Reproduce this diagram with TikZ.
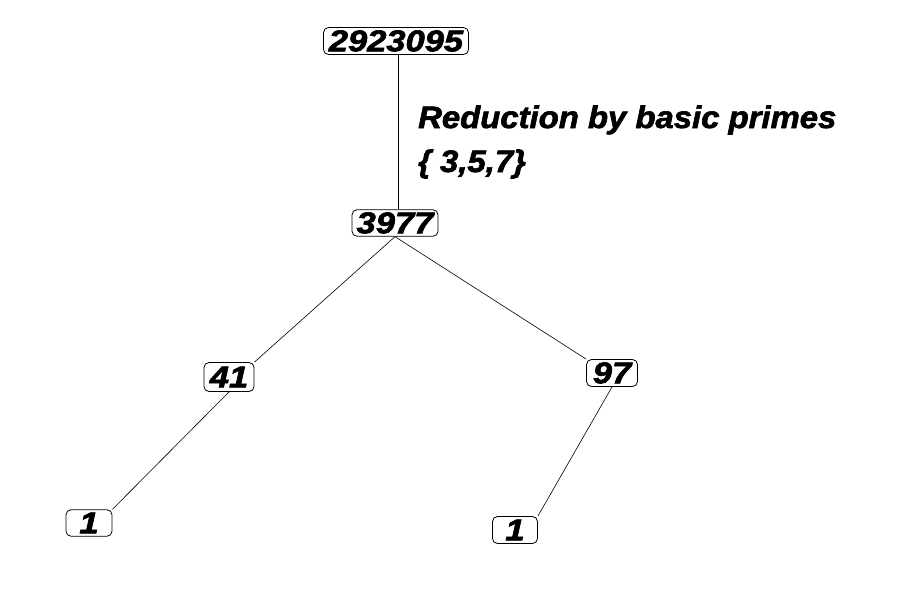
\documentclass[tikz,border=0pt]{standalone}
\usepackage{fontspec}
\setmainfont{Liberation Sans}
\newfontfamily\blackfont{Liberation Sans}[BoldItalicFeatures={FakeBold=2}]
\newcommand{\wide}[1]{\scalebox{1.15}[1]{#1}}
\newcommand{\lblwide}[1]{\scalebox{1.06}[1]{#1}}
\begin{document}
\begin{tikzpicture}[x=1pt,y=-1pt,
  numbox/.style={draw=black,line width=0.8pt,rounded corners=5pt,inner sep=0pt,text height=23.5pt,text depth=3pt,font=\fontsize{30}{32}\blackfont\bfseries\itshape},
  edge/.style={draw=black,line width=0.6pt}]
\useasboundingbox[fill=white] (0,0) rectangle (907,598);
\node[numbox,minimum width=145pt,minimum height=27pt] (n1) at (396,41) {\wide{2923095}};
\node[numbox,minimum width=86pt,minimum height=26pt] (n2) at (395,223) {\wide{3977}};
\node[numbox,minimum width=50pt,minimum height=29pt] (n3) at (229,377) {\wide{41}};
\node[numbox,minimum width=51pt,minimum height=27pt] (n4) at (612,373) {\wide{97}};
\node[numbox,minimum width=46pt,minimum height=26pt] (n5) at (89,523) {\wide{1}};
\node[numbox,minimum width=45pt,minimum height=27pt] (n6) at (515,530) {\wide{1}};
\node[anchor=base west,align=left,inner sep=0pt,font=\fontsize{31}{44}\blackfont\bfseries\itshape] (lbl) at (418,172) {\lblwide{Reduction by basic primes}\\\lblwide{\{ 3,5,7\}}};
\path (n1.south) ++(2,0) coordinate (a1) (n2.north) ++(3,0) coordinate (a2);
\draw[edge] (a1) -- (a2);
\draw[edge] (n2.south) -- (n3.north east);
\draw[edge] (n2.south) -- (n4.north west);
\draw[edge] (n3.south) -- (n5.north east);
\draw[edge] (n4.south) -- (n6.north east);
\end{tikzpicture}
\end{document}
